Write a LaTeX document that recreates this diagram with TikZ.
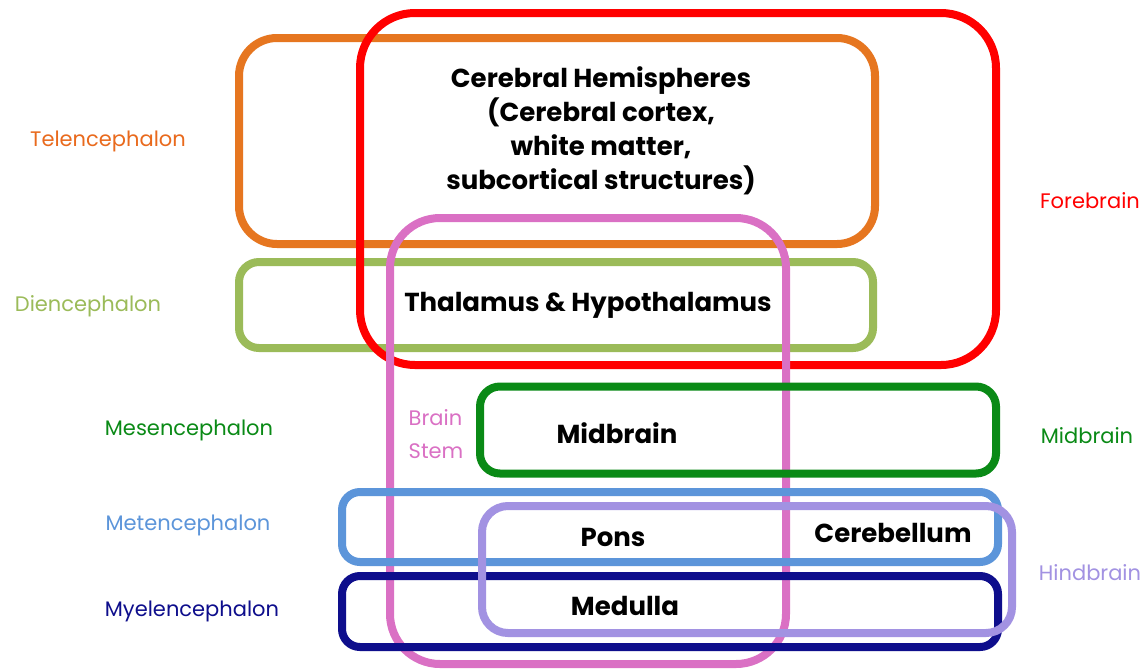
\documentclass[tikz,border=0pt]{standalone}
\usepackage{fontspec}
\setmainfont{Poppins}
\definecolor{teleOrange}{RGB}{230,118,32}
\definecolor{dienGreen}{RGB}{155,187,89}
\definecolor{foreRed}{RGB}{255,0,0}
\definecolor{stemPink}{RGB}{218,112,196}
\definecolor{mesGreen}{RGB}{10,138,22}
\definecolor{metBlue}{RGB}{92,149,218}
\definecolor{myelNavy}{RGB}{14,14,140}
\definecolor{hindPurple}{RGB}{162,146,226}
\begin{document}
\begin{tikzpicture}[
    x=1pt, y=-1pt,
    region/.style={rectangle, draw, line width=8pt, inner sep=0pt},
    part/.style={font=\bfseries\fontsize{26}{34}\selectfont, align=center},
    level/.style={font=\fontsize{21}{33}\selectfont}
]
    \useasboundingbox[fill=white] (0,0) rectangle (1147,670);

    % regions, back to front
    \node[region, draw=teleOrange, rounded corners=38pt, minimum width=636pt, minimum height=206pt] (tele) at (557,141) {};
    \node[region, draw=dienGreen, rounded corners=20pt, minimum width=634pt, minimum height=86pt] (dien) at (556,305) {};
    \node[region, draw=foreRed, rounded corners=55pt, minimum width=636pt, minimum height=352pt] (fore) at (678,189) {};
    \node[region, draw=stemPink, rounded corners=50pt, minimum width=396pt, minimum height=446pt] (stem) at (588,441) {};
    \node[region, draw=mesGreen, rounded corners=20pt, minimum width=516pt, minimum height=87pt] (mes) at (738,430) {};
    \node[region, draw=metBlue, rounded corners=18pt, minimum width=656pt, minimum height=70pt] (met) at (670,527) {};
    \node[region, draw=myelNavy, rounded corners=18pt, minimum width=656pt, minimum height=71pt] (myel) at (670,611.5) {};
    \node[region, draw=hindPurple, rounded corners=26pt, minimum width=530pt, minimum height=127pt] (hind) at (747,569.5) {};

    % structures
    \node[part] (cerebral) at (601,131) {Cerebral Hemispheres\\(Cerebral cortex,\\white matter,\\subcortical structures)};
    \node[part] (thalamus) at (588,305) {Thalamus \& Hypothalamus};
    \node[part] (midbrain) at (617,433) {Midbrain};
    \node[part] (pons) at (613,537) {Pons};
    \node[part] (cerebellum) at (893,533) {Cerebellum};
    \node[part] (medulla) at (625,606) {Medulla};

    % divisions
    \node[level, text=teleOrange!90!red] (telelbl) at (108,141) {Telencephalon};
    \node[level, text=dienGreen] (dienlbl) at (88,306) {Diencephalon};
    \node[level, text=mesGreen] (meslbl) at (189,430) {Mesencephalon};
    \node[level, text=metBlue] (metlbl) at (188,525) {Metencephalon};
    \node[level, text=myelNavy] (myellbl) at (192,611) {Myelencephalon};
    \node[level, text=stemPink, align=left] (stemlbl) at (436,434) {Brain\\Stem};
    \node[level, text=foreRed] (forelbl) at (1090,201) {Forebrain};
    \node[level, text=mesGreen] (midlbl) at (1087,436) {Midbrain};
    \node[level, text=hindPurple] (hindlbl) at (1090,573) {Hindbrain};
\end{tikzpicture}
\end{document}
